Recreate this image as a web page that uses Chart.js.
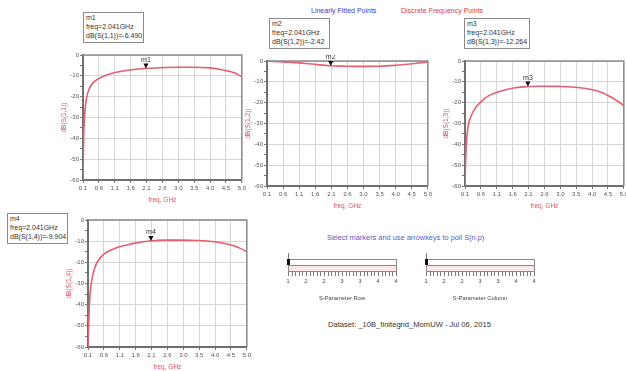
<!DOCTYPE html>
<html><head><meta charset="utf-8">
<script src="https://cdn.jsdelivr.net/npm/chart.js@4"></script>
<style>
body{margin:0;background:#fff;width:626px;height:371px;overflow:hidden;position:relative;font-family:"Liberation Sans",Arial,sans-serif;}
canvas{position:absolute;}
.mk{position:absolute;border:1.5px solid #8a8a8a;background:#fff;font-size:7px;line-height:9px;color:#333;padding:0 2px;box-sizing:border-box;white-space:nowrap;overflow:hidden;}
.t{position:absolute;white-space:nowrap;}
.sl{position:absolute;width:109px;height:13px;border:1px solid #8a8a8a;box-sizing:border-box;background:linear-gradient(to bottom,#fff 0,#fff 5px,#e06070 5px,#e06070 6.2px,#fbe6ea 6.2px,#fbe6ea 100%);}
.slt{position:absolute;width:109px;height:4px;background:repeating-linear-gradient(to right,#777 0,#777 1px,transparent 1px,transparent 3.6px);}
.knob{position:absolute;width:3px;height:6px;background:#111;}
.kl{position:absolute;width:1px;height:6px;background:#777;}
.sll{position:absolute;font-size:5.5px;color:#444;transform:translateX(-50%);}
</style></head><body>
<canvas id="p1"></canvas><canvas id="p2"></canvas><canvas id="p3"></canvas><canvas id="p4"></canvas>
<div id="overlay"></div>
<script>
// ---- data ----
const freq = [0.1,0.12,0.15,0.2,0.3,0.4,0.6,0.8,1.0,1.3,1.6,2.0,2.5,3.0,3.5,4.0,4.3,4.6,4.8,5.0];
const s11 = [-60,-40,-29,-21.5,-16,-13.5,-11.2,-9.8,-8.8,-7.8,-7.1,-6.5,-6.1,-5.9,-5.9,-6.2,-6.8,-7.8,-8.8,-10.5];
const s12 = [-0.1,-0.1,-0.1,-0.15,-0.2,-0.3,-0.4,-0.6,-0.8,-1.2,-1.7,-2.3,-2.5,-2.6,-2.5,-2.1,-1.7,-1.2,-0.8,-0.4];
const s13 = [-60,-48,-38,-31,-26,-23,-19.5,-17,-15.5,-14,-13,-12.3,-12.1,-12.2,-12.6,-13.7,-15,-17.3,-19.2,-21.5];
const s14 = [-60,-50,-38,-30,-23,-19.5,-16,-14.3,-13,-11.8,-10.8,-9.9,-9.5,-9.5,-9.7,-10.3,-11,-12.2,-13.4,-15];
const xTickVals = [0.1,0.59,1.08,1.57,2.06,2.55,3.04,3.53,4.02,4.51,5.0];
const xTickLabels = ['0.1','0.6','1.1','1.6','2.1','2.6','3.0','3.5','4.0','4.5','5.0'];
const yTickVals = [0,-5,-10,-15,-20,-25,-30,-35,-40,-45,-50,-55,-60];
const yTickLabels = ['0','','-10','','-20','','-30','','-40','','-50','','-60'];
const yTitles = ['dB(S(1,1))','dB(S(1,2))','dB(S(1,3))','dB(S(1,4))'];
const markerFreq = 2.041;
const markerNames = ['m1','m2','m3','m4'];
const markerVals = [-6.490,-2.42,-12.264,-9.904];
const markerText = ['dB(S(1,1))=-6.490','dB(S(1,2))=-2.42','dB(S(1,3))=-12.264','dB(S(1,4))=-9.904'];
const sliderLabels = ['1','2','2','3','3','4','4'];

// ---- layout ----
const FAM = '"Liberation Sans", Arial, sans-serif';
const areas = [ {L:83,T:55,R:242,B:180}, {L:267,T:61,R:428,B:186}, {L:465,T:61,R:624,B:186}, {L:88,T:220,R:247,B:347} ];
const series = [s11,s12,s13,s14];

const framePlugin = {id:'frame', afterDraw(chart){
  const a = chart.chartArea, c = chart.ctx;
  c.save(); c.strokeStyle='#8a8a8a'; c.lineWidth=1.5;
  c.beginPath(); c.moveTo(a.left,a.top); c.lineTo(a.right,a.top); c.lineTo(a.right,a.bottom); c.stroke();
  const o = chart.options.plugins.mk;
  const x = chart.scales.x.getPixelForValue(markerFreq), y = chart.scales.y.getPixelForValue(o.val);
  c.fillStyle='#111'; c.beginPath(); c.moveTo(x-2.6,y-5); c.lineTo(x+2.6,y-5); c.lineTo(x,y); c.closePath(); c.fill();
  c.font='7px '+FAM; c.fillStyle='#333'; c.textAlign='center'; c.textBaseline='bottom';
  c.fillText(o.name, x, y-5);
  c.restore();
}};

areas.forEach((a,i)=>{
  const cv = document.getElementById('p'+(i+1));
  const w = (a.R-a.L)+40, h = (a.B-a.T)+36;
  cv.width=w; cv.height=h; cv.style.left=(a.L-34)+'px'; cv.style.top=(a.T-6)+'px';
  cv.style.width=w+'px'; cv.style.height=h+'px';
  new Chart(cv, {
    type:'line',
    data:{datasets:[{data:freq.map((f,k)=>({x:f,y:series[i][k]})), borderColor:'#e2606f', borderWidth:1.6, pointRadius:0, cubicInterpolationMode:'monotone', fill:false}]},
    options:{
      responsive:false, animation:false, devicePixelRatio:1,
      layout:{padding:{left:0,top:6,right:6,bottom:0}},
      plugins:{legend:{display:false}, tooltip:{enabled:false}, mk:{val:markerVals[i], name:markerNames[i]}},
      scales:{
        x:{type:'linear', min:0.1, max:5.0,
          afterBuildTicks:s=>{s.ticks = xTickVals.map(v=>({value:v}));},
          afterFit:s=>{s.height=30;},
          ticks:{autoSkip:false, maxRotation:0, padding:2, font:{size:6,family:FAM}, color:'#555', callback:(v,k)=>xTickLabels[k]},
          grid:{color:'#d6d6d6', lineWidth:1, tickLength:3, tickColor:'#777'},
          border:{color:'#6f6f6f', width:2},
          title:{display:true, text:'freq, GHz', color:'#e4505f', font:{size:6.5,family:FAM}, padding:{top:0,bottom:6}}
        },
        y:{type:'linear', min:-60, max:0,
          afterBuildTicks:s=>{s.ticks = yTickVals.map(v=>({value:v}));},
          afterFit:s=>{s.width=34;},
          ticks:{autoSkip:false, padding:1, font:{size:6,family:FAM}, color:'#555', callback:(v,k)=>yTickLabels[k]},
          grid:{color:ctx=> (yTickVals[ctx.index]%10===0)?'#d6d6d6':'transparent', lineWidth:1, tickLength:3, tickColor:'#777'},
          border:{color:'#6f6f6f', width:2},
          title:{display:true, text:yTitles[i], color:'#e4505f', font:{size:6.5,family:FAM}, padding:{top:11,bottom:0}}
        }
      }
    },
    plugins:[framePlugin]
  });
});

// ---- overlays: marker boxes, legend, sliders, notes ----
const ov = document.getElementById('overlay');
function add(html){ ov.insertAdjacentHTML('beforeend', html); }
const boxes = [ {x:83,y:12}, {x:269,y:18}, {x:464,y:18}, {x:7,y:213} ];
boxes.forEach((b,i)=>{
  add(`<div class="mk" style="left:${b.x}px;top:${b.y}px;width:${i==2?66:61}px;height:31px;">${markerNames[i]}<br>freq=2.041GHz<br>${markerText[i]}</div>`);
});
add(`<div class="t" style="left:311px;top:7px;font-size:7px;color:#3c3cd8;">Linearly Fitted Points</div>`);
add(`<div class="t" style="left:401px;top:7px;font-size:7px;color:#e03a4a;">Discrete Frequency Points</div>`);
add(`<div class="t" style="left:327px;top:233px;font-size:7.4px;color:#5a5ad0;">Select markers and use arrowkeys to poll S(n,p)</div>`);
add(`<div class="t" style="left:328px;top:320px;font-size:7.6px;color:#333;">Dataset: _10B_finitegnd_MomUW - Jul 06, 2015</div>`);
const sliders = [ {x:288, label:'S-Parameter Row'}, {x:426, label:'S-Parameter Column'} ];
sliders.forEach(s=>{
  add(`<div class="sl" style="left:${s.x}px;top:259px;"></div>`);
  add(`<div class="kl" style="left:${s.x}px;top:253px;"></div>`);
  add(`<div class="knob" style="left:${s.x-1}px;top:259px;"></div>`);
  add(`<div class="slt" style="left:${s.x}px;top:272px;"></div>`);
  sliderLabels.forEach((l,k)=>{
    add(`<div class="sll" style="left:${s.x+k*108/6}px;top:278px;">${l}</div>`);
  });
  add(`<div class="t" style="left:${s.x+54}px;top:295px;font-size:5.8px;color:#444;transform:translateX(-50%);">${s.label}</div>`);
});
</script>
</body></html>
